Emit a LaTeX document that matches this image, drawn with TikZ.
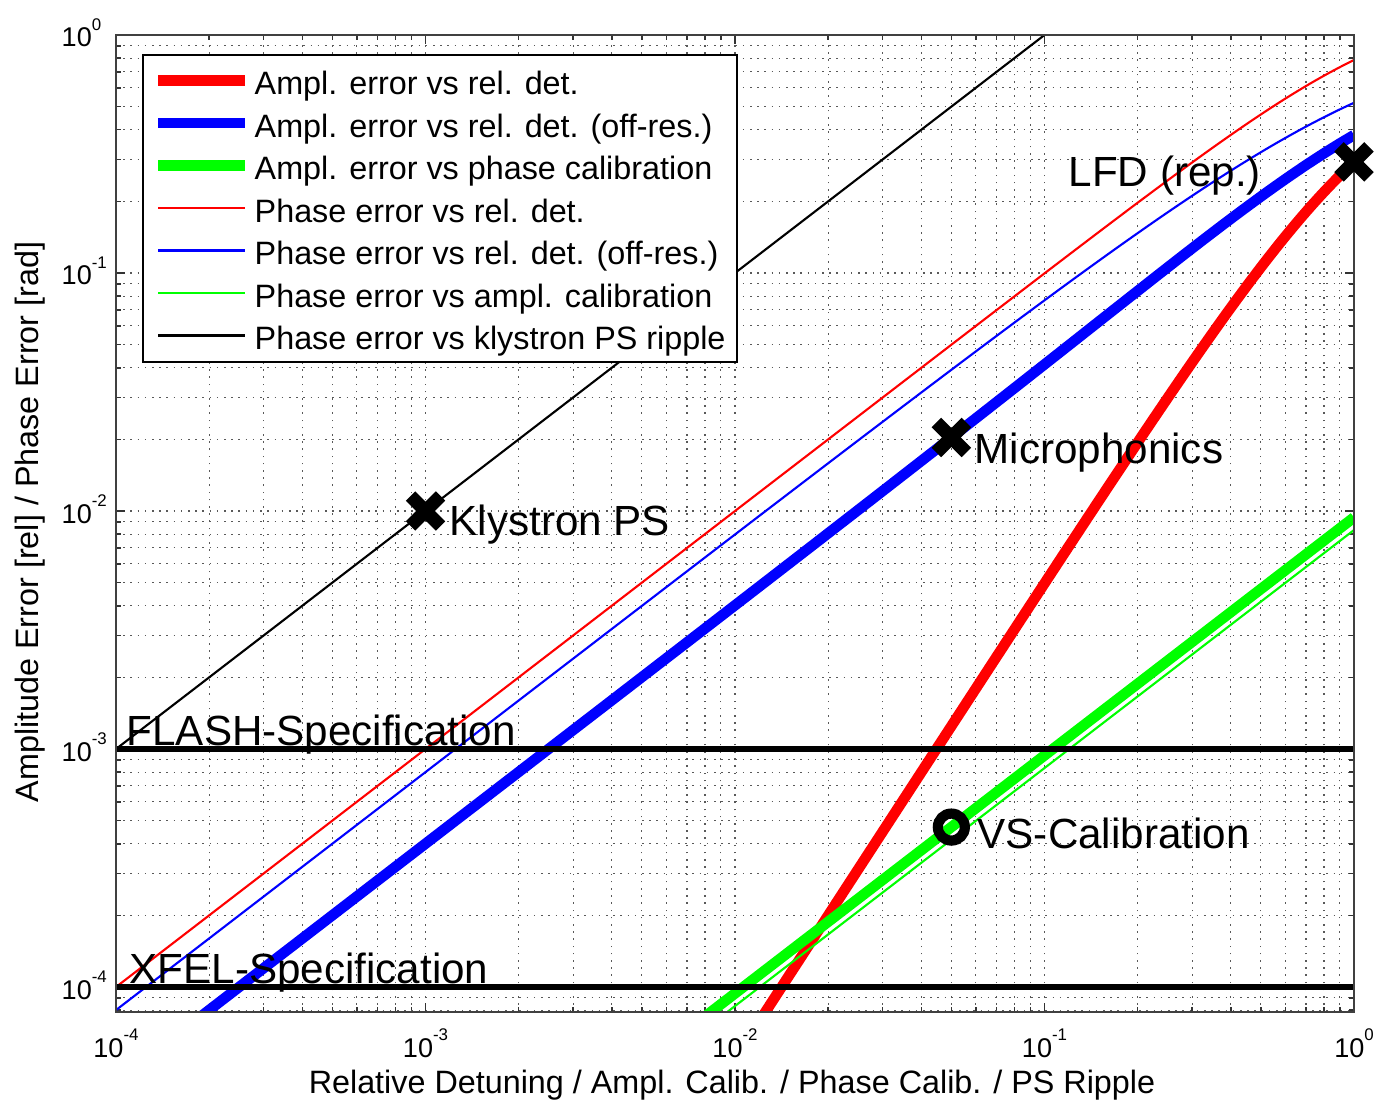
\documentclass[tikz,border=0pt]{standalone}
\usepackage{fontspec}
\setmainfont{Liberation Sans}
\newcommand{\tenpow}[1]{{\fontsize{7.7}{8}\selectfont 10\raisebox{4.8pt}{\fontsize{4.8}{5}\selectfont #1}}}
\newcommand{\drawxmark}[1]{%
  \draw[xmarkline] ([xshift=-0.15cm,yshift=-0.15cm]#1) -- ([xshift=0.15cm,yshift=0.15cm]#1);
  \draw[xmarkline] ([xshift=-0.15cm,yshift=0.15cm]#1) -- ([xshift=0.15cm,yshift=-0.15cm]#1);}
\begin{document}
\begin{tikzpicture}[
  declare function={
    atv(\u)=(\u)-log10(1+sqrt(1+pow(10,2*(\u))));
    atw(\u)=pow(10,2*atv(\u));
    atanl(\u)=log10(2)+atv(\u)+log10(1-atw(\u)/3+atw(\u)^2/5-atw(\u)^3/7+atw(\u)^4/9);
    redthick(\t)=2*(\t)-log10(sqrt(1+pow(10,2*(\t)))*(sqrt(1+pow(10,2*(\t)))+1));
    bdd(\t)=1+(0.5+pow(10,(\t)))^2;
    bluethick(\t)=(\t)+log10((1+pow(10,(\t)))/(bdd(\t)*(1+sqrt(1.25/bdd(\t)))));
    bluethin(\t)=atanl((\t)-log10(1.25+0.5*pow(10,(\t))));
  },
  gridline/.style={black!65, line width=0.32pt, dash pattern=on 0.45pt off 1.6pt},
  tickmark/.style={black!80, line width=0.45pt},
  axisbox/.style={black!75, line width=0.6pt},
  curvethick/.style={line width=3pt, line join=round},
  curvethin/.style={line width=0.6pt, line join=round},
  specline/.style={black, line width=1.6pt},
  xmarkline/.style={black, line width=3.8pt},
  ringmark/.style={draw=black, line width=2.9pt, circle, minimum size=0.27cm, inner sep=0pt},
  legtext/.style={anchor=base west, inner sep=0pt, font=\fontsize{9.2}{11}\selectfont},
  annot/.style={anchor=base west, inner sep=0pt, font=\fontsize{12}{14}\selectfont},
  ticklab/.style={inner sep=0pt},
  axlab/.style={inner sep=0pt, anchor=base, font=\fontsize{9.2}{11}\selectfont},
]
\useasboundingbox (0,0) rectangle (13.74,11.02);
\fill[white] (0,0) rectangle (13.74,11.02);

\begin{scope}[shift={(13.54,10.67)}, x=3.095cm, y=2.38cm]
  % vertical grid and x ticks
  \foreach \d in {-4,...,-1}{
    \foreach \k in {1,...,9}{
      \pgfmathsetmacro\xx{\d+log10(\k)}
      \pgfmathsetmacro\len{ifthenelse(\k==1,0.09,0.05)}
      \draw[gridline] (\xx,-4.105) -- (\xx,0);
      \draw[tickmark] (\xx,-4.105) -- ++(0pt,\len cm);
      \draw[tickmark] (\xx,0) -- ++(0pt,-\len cm);
    }
  }
  % horizontal grid and y ticks
  \foreach \d in {-5,...,-1}{
    \foreach \k in {1,...,9}{
      \pgfmathsetmacro\yy{\d+log10(\k)}
      \pgfmathsetmacro\len{ifthenelse(\k==1,0.09,0.05)}
      \ifdim \yy pt > -4.105pt
        \draw[gridline] (-4,\yy) -- (0,\yy);
        \draw[tickmark] (-4,\yy) -- ++(\len cm,0pt);
        \draw[tickmark] (0,\yy) -- ++(-\len cm,0pt);
      \fi
    }
  }
  % curves
  \begin{scope}
    \clip (-4,-4.105) rectangle (0,0);
    \draw[red, curvethick] plot[domain=-1.95:0, samples=90, smooth] (\x,{redthick(\x)});
    \draw[blue, curvethick] plot[domain=-3.8:0, samples=90, smooth] (\x,{bluethick(\x)});
    \draw[green, curvethick] (-2.1,-4.127) -- (0,-2.027);
    \draw[red, curvethin] plot[domain=-4:0, samples=90, smooth] (\x,{atanl(\x)});
    \draw[blue, curvethin] plot[domain=-4:0, samples=90, smooth] (\x,{bluethin(\x)});
    \draw[green, curvethin] (-2.1,-4.18) -- (0,-2.08);
    \draw[black, curvethin] (-4,-3) -- (-1,0);
  \end{scope}
  % specification lines
  \coordinate (flashL) at (-4,-3);
  \coordinate (flashR) at (0,-3);
  \coordinate (xfelL) at (-4,-4);
  \coordinate (xfelR) at (0,-4);
  \draw[specline] (flashL) -- (flashR);
  \draw[specline] (xfelL) -- (xfelR);
  % axes box
  \draw[axisbox] (-4,-4.105) rectangle (0,0);
  % markers
  \coordinate (mkKly) at (-3,-2);
  \coordinate (mkMic) at (-1.301,-1.691);
  \coordinate (mkLFD) at (0,-0.533);
  \drawxmark{mkKly}
  \drawxmark{mkMic}
  \drawxmark{mkLFD}
  \node[ringmark] (mkVS) at (-1.301,-3.328) {};
\end{scope}

% legend
\draw[black, line width=0.5pt, fill=white] (1.43,7.40) rectangle (7.37,10.47);
\foreach \i/\col/\w/\txt in {
  0/red/3.1pt/{Ampl. error vs rel. det.},
  1/blue/3.1pt/{Ampl. error vs rel. det. (off-res.)},
  2/green/3.1pt/{Ampl. error vs phase calibration},
  3/red/0.6pt/{Phase error vs rel. det.},
  4/blue/0.6pt/{Phase error vs rel. det. (off-res.)},
  5/green/0.6pt/{Phase error vs ampl. calibration},
  6/black/0.6pt/{Phase error vs klystron PS ripple}}{
  \pgfmathsetmacro\yb{10.07-0.425*\i}
  \draw[\col, line width=\w] (1.58,\yb+0.145) -- (2.45,\yb+0.145);
  \node[legtext] (leg\i) at (2.54,\yb) {\txt};
}

% annotations
\node[annot] (lblKly) at (4.49,5.67) {Klystron PS};
\node[annot] (lblMic) at (9.74,6.39) {Microphonics};
\node[annot] (lblLFD) at (10.68,9.15) {LFD (rep.)};
\node[annot] (lblVS) at (9.77,2.54) {VS-Calibration};
\node[annot] (lblFLASH) at (1.26,3.57) {FLASH-Specification};
\node[annot] (lblXFEL) at (1.29,1.19) {XFEL-Specification};

% tick labels
\node[ticklab, anchor=base] (xt4) at (1.16,0.45) {\tenpow{-4}};
\node[ticklab, anchor=base] (xt3) at (4.255,0.45) {\tenpow{-3}};
\node[ticklab, anchor=base] (xt2) at (7.35,0.45) {\tenpow{-2}};
\node[ticklab, anchor=base] (xt1) at (10.445,0.45) {\tenpow{-1}};
\node[ticklab, anchor=base] (xt0) at (13.54,0.45) {\tenpow{0}};
\node[ticklab, anchor=base west] (yt0) at (0.61,10.55) {\tenpow{0}};
\node[ticklab, anchor=base west] (yt1) at (0.61,8.17) {\tenpow{-1}};
\node[ticklab, anchor=base west] (yt2) at (0.61,5.79) {\tenpow{-2}};
\node[ticklab, anchor=base west] (yt3) at (0.61,3.41) {\tenpow{-3}};
\node[ticklab, anchor=base west] (yt4) at (0.61,1.03) {\tenpow{-4}};

% axis titles
\node[axlab] (xlab) at (7.32,0.09) {Relative Detuning / Ampl. Calib. / Phase Calib. / PS Ripple};
\node[axlab, rotate=90] (ylab) at (0.38,5.80) {Amplitude Error [rel] / Phase Error [rad]};
\end{tikzpicture}
\end{document}
